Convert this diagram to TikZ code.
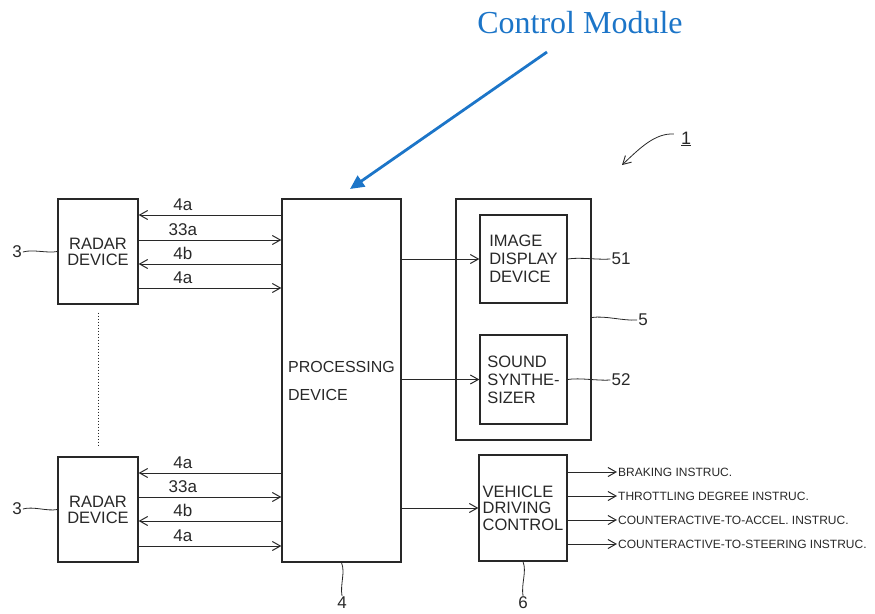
\documentclass[tikz,border=0pt]{standalone}
\usepackage{fontspec}
\setmainfont{Liberation Sans}
\newfontfamily\cmfont{Liberation Serif}
\usetikzlibrary{arrows.meta}
\definecolor{ink}{RGB}{40,40,40}
\definecolor{cblue}{RGB}{28,117,200}
\begin{document}
\begin{tikzpicture}[x=1pt,y=-1pt,
  box/.style={draw=ink, line width=1.3pt, inner sep=0pt, text=ink, font=\fontsize{16.5}{18}\selectfont},
  arr/.style={draw=ink, line width=1pt, -{Straight Barb[length=8pt,width=9pt,line width=1pt]}},
  lab/.style={font=\fontsize{17}{18}\selectfont, text=ink, inner sep=1pt},
  lead/.style={draw=ink, line width=0.8pt},
  ins/.style={font=\fontsize{12}{12}\selectfont, text=ink, anchor=west, inner sep=1pt}]
\useasboundingbox (0,0) rectangle (875,613);

% title and blue arrow
\node[font=\cmfont\fontsize{32}{32}\selectfont, text=cblue, anchor=base, inner sep=0pt] (cm) at (580,33) {Control Module};
\coordinate (cmstart) at (547,52);
\coordinate (cmtip) at (350,189);
\draw[cblue, line width=2.8pt, -{Triangle[length=14pt,width=13pt]}] (cmstart) -- (cmtip);

% reference 1
\node[lab, font=\fontsize{18}{18}\selectfont] (n1) at (686,139) {\underline{1}};
\coordinate (n1tip) at (622,165);
\draw[lead, -{Straight Barb[length=8pt,width=9pt,line width=0.9pt]}] ([xshift=-6pt,yshift=5pt]n1.west) .. controls (655,133) and (640,148) .. (n1tip);

% boxes
\node[box, minimum width=80pt, minimum height=105pt, align=center, font=\fontsize{16.5}{16}\selectfont] (radar1) at (98,251.5) {RADAR\\DEVICE};
\node[box, minimum width=80pt, minimum height=105pt, align=center, font=\fontsize{16.5}{16}\selectfont] (radar2) at (98,509.5) {RADAR\\DEVICE};
\node[box, minimum width=119pt, minimum height=363pt, align=left, font=\fontsize{16}{28}\selectfont] (proc) at (341.5,380.5) {PROCESSING\\DEVICE};
\node[box, minimum width=135pt, minimum height=241pt] (box5) at (523.5,319.5) {};
\node[box, minimum width=87pt, minimum height=88pt, align=left] (img) at (523.5,259) {IMAGE\\DISPLAY\\DEVICE};
\node[box, minimum width=87pt, minimum height=89pt, align=left] (snd) at (523.5,379.5) {SOUND\\SYNTHE-\\SIZER};
\node[box, minimum width=88pt, minimum height=106pt, align=left, font=\fontsize{16.5}{16.5}\selectfont] (vdc) at (523,508) {VEHICLE\\DRIVING\\CONTROL};

% dotted link between radars
\draw[ink, line width=1pt, dash pattern=on 1pt off 2pt, shorten <=8pt, shorten >=9pt] (radar1.south) -- (radar2.north);

% top radar arrows
\coordinate (ta) at (0,215); \coordinate (tb) at (0,240);
\coordinate (tc) at (0,264); \coordinate (td) at (0,288);
\draw[arr] (proc.west |- ta) -- node[lab, pos=0.69, above=3pt] (la1) {4a} (radar1.east |- ta);
\draw[arr] (radar1.east |- tb) -- node[lab, pos=0.31, above=3pt] (la2) {33a} (proc.west |- tb);
\draw[arr] (proc.west |- tc) -- node[lab, pos=0.69, above=3pt] (la3) {4b} (radar1.east |- tc);
\draw[arr] (radar1.east |- td) -- node[lab, pos=0.31, above=3pt] (la4) {4a} (proc.west |- td);

% bottom radar arrows
\coordinate (ba) at (0,473); \coordinate (bb) at (0,497);
\coordinate (bc) at (0,521); \coordinate (bd) at (0,546);
\draw[arr] (proc.west |- ba) -- node[lab, pos=0.69, above=3pt] (lb1) {4a} (radar2.east |- ba);
\draw[arr] (radar2.east |- bb) -- node[lab, pos=0.31, above=3pt] (lb2) {33a} (proc.west |- bb);
\draw[arr] (proc.west |- bc) -- node[lab, pos=0.69, above=3pt] (lb3) {4b} (radar2.east |- bc);
\draw[arr] (radar2.east |- bd) -- node[lab, pos=0.31, above=3pt] (lb4) {4a} (proc.west |- bd);

% processing outputs
\draw[arr] (proc.east |- img.west) -- (img.west);
\draw[arr] (proc.east |- snd.west) -- (snd.west);
\draw[arr] (proc.east |- vdc.west) -- (vdc.west);

% vehicle driving control outputs
\node[ins] (i1) at (617,472) {BRAKING INSTRUC.};
\node[ins] (i2) at (617,496) {THROTTLING DEGREE INSTRUC.};
\node[ins] (i3) at (617,520) {COUNTERACTIVE-TO-ACCEL. INSTRUC.};
\node[ins] (i4) at (617,544) {COUNTERACTIVE-TO-STEERING INSTRUC.};
\draw[arr] (vdc.east |- i1.west) -- (i1.west);
\draw[arr] (vdc.east |- i2.west) -- (i2.west);
\draw[arr] (vdc.east |- i3.west) -- (i3.west);
\draw[arr] (vdc.east |- i4.west) -- (i4.west);

% reference numerals and leaders
\node[lab] (n3a) at (17,252) {3};
\node[lab] (n3b) at (17,509) {3};
\draw[lead] (n3a.east) .. controls +(10,-3) and +(-10,2) .. (radar1.west);
\draw[lead] (n3b.east) .. controls +(10,-3) and +(-10,2) .. (radar2.west);
\node[lab] (n51) at (621,259) {51};
\node[lab] (n5) at (643,320) {5};
\node[lab] (n52) at (621,380) {52};
\draw[lead] (img.east) .. controls +(12,-2) and +(-12,1) .. (n51.west);
\draw[lead] ([yshift=2pt]box5.east) .. controls +(14,-2) and +(-14,1) .. (n5.west);
\draw[lead] (snd.east) .. controls +(12,-2) and +(-12,1) .. (n52.west);
\node[lab] (n4) at (342,603) {4};
\node[lab] (n6) at (523,603) {6};
\draw[lead] (proc.south) .. controls +(4,10) and +(-2,-12) .. (n4.north);
\draw[lead] (vdc.south) .. controls +(4,10) and +(-2,-12) .. (n6.north);
\end{tikzpicture}
\end{document}
